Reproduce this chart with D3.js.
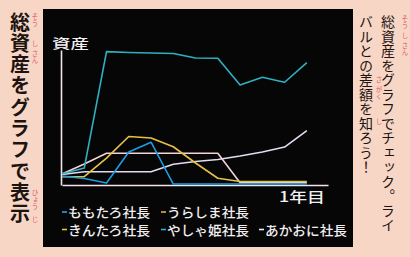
<!DOCTYPE html>
<html>
<head>
<meta charset="utf-8">
<script src="https://cdn.jsdelivr.net/npm/d3@7"></script>
<style>
  body { margin: 0; background: #f8d6c6; }
  svg { display: block; }
</style>
</head>
<body>
<svg id="chart" width="410" height="257"></svg>
<script>
// Year-1 total assets per president, one value per month (12 turns)
const months = d3.range(12);
const presidents = ['ももたろ社長', 'うらしま社長', 'きんたろ社長', 'やしゃ姫社長', 'あかおに社長'];
const momotaro = [6, 4.1, 0.8, 24.1, 31.4, 0, 0, 0, 0, 0, 0, 0];
const urashima = [7.5, 15, 23.1, 23.1, 23.1, 23.1, 23.1, 23.1, 1, 1, 1, 1];
const kintaro = [5.5, 5.5, 19.5, 35.7, 34.6, 28, 15.8, 4.3, 1.9, 1.9, 1.9, 1.9];
const yashahime = [7.5, 12, 99.5, 98.9, 98.5, 98.1, 94.7, 94.5, 74.4, 80.2, 76.5, 91.2];
const akaoni = [7.1, 9.2, 9.2, 9.2, 9.2, 14.8, 16.9, 18.4, 21, 24, 27.8, 40.2];
const seriesValues = [momotaro, urashima, kintaro, yashahime, akaoni];

const lineColors = ['#1c9de2', '#f4d2d8', '#e7c145', '#2fb1c2', '#e6daf2'];
const legendColors = ['#2aa0e0', '#e8a845', '#e8c232', '#38b2c0', '#f0eef0'];

// Page captions (vertical)
const leftCaption = '総資産をグラフで表示';
const rightCaption1 = '総資産をグラフでチェック。ライ';
const rightCaption2 = 'バルとの差額を知ろう！';

const svg = d3.select('#chart');
const JP = '"Noto Sans CJK JP", "Noto Sans", sans-serif';

// ---- vertical captions on the pink page ----
function vText(x, y, str, size, opts = {}) {
    return svg.append('text')
        .attr('x', x)
        .attr('y', y)
        .style('writing-mode', 'vertical-rl')
        .style('font-family', JP)
        .style('font-size', size + 'px')
        .style('font-weight', opts.weight || 400)
        .style('letter-spacing', (opts.spacing || 0) + 'px')
        .attr('fill', opts.fill || '#1b1410')
        .text(str);
}

vText(20, 12, leftCaption, 20, { weight: 700, spacing: 1.3 });
vText(388, 15, rightCaption1, 14, { spacing: 0.5 });
vText(366, 15, rightCaption2, 14, { spacing: 0.5 });

// furigana
const RUBY = '#e0586a';
[
    [35, 13, 'そう'], [35, 40, 'し'], [35, 50, 'さん'], [35, 189, 'ひょう'], [35, 216, 'じ'],
    [405, 15, 'そう'], [405, 32, 'し'], [405, 42, 'さん'],
    [379, 76, 'さ'], [379, 86, 'がく'], [379, 118, 'し']
].forEach(([x, y, s]) => vText(x, y, s, 6.5, { fill: RUBY, spacing: 0.5 }));

// ---- black game screen ----
svg.append('rect')
    .attr('x', 43).attr('y', 9)
    .attr('width', 310).attr('height', 238)
    .attr('fill', '#060606');

const x = d3.scaleLinear().domain([0, 11.95]).range([62, 328]);
const y = d3.scaleLinear().domain([-0.75, 100.75]).range([185, 50]);

const AXIS = '#f3e4ea';

svg.append('g')
    .attr('transform', `translate(0,${y(-0.75)})`)
    .call(d3.axisBottom(x).ticks(0).tickSizeOuter(0))
    .call(g => g.select('.domain').attr('stroke', AXIS).attr('stroke-width', 1.6));

svg.append('g')
    .attr('transform', `translate(${x(0) - 1},0)`)
    .call(d3.axisLeft(y).ticks(0).tickSizeOuter(0))
    .call(g => g.select('.domain').attr('stroke', AXIS).attr('stroke-width', 1.6));

// asset lines (draw big ones last)
const line = d3.line()
    .x((d, i) => x(months[i]))
    .y(d => y(d));

const drawOrder = [4, 1, 2, 0, 3];
svg.append('g')
    .selectAll('path')
    .data(drawOrder)
    .join('path')
    .attr('d', k => line(seriesValues[k]))
    .attr('fill', 'none')
    .attr('stroke', k => lineColors[k])
    .attr('stroke-width', 1.6)
    .attr('stroke-linejoin', 'round');

// axis labels (the game font is wide, so stretch them)
const labelStyle = (sel, size) => sel
    .style('font-family', JP)
    .style('font-size', size + 'px')
    .style('font-weight', 500)
    .attr('fill', '#f2eef2');

svg.append('text').attr('x', 52).attr('y', 48)
    .attr('textLength', 37).attr('lengthAdjust', 'spacingAndGlyphs')
    .text('資産').call(labelStyle, 13);
svg.append('text').attr('x', 279).attr('y', 202)
    .attr('textLength', 46).attr('lengthAdjust', 'spacingAndGlyphs')
    .text('1年目').call(labelStyle, 14);

// legend: two rows, three columns
const legendCols = [62, 161, 259];
const legendPos = [[0, 0], [1, 0], [0, 1], [1, 1], [2, 1]];

const legend = svg.append('g')
    .selectAll('g')
    .data(presidents)
    .join('g')
    .attr('transform', (d, i) => `translate(${legendCols[legendPos[i][0]]},${217 + legendPos[i][1] * 17.5})`);

legend.append('line')
    .attr('x1', 0).attr('x2', 5)
    .attr('y1', -5).attr('y2', -5)
    .attr('stroke', (d, i) => legendColors[i])
    .attr('stroke-width', 1.6);

legend.append('text')
    .attr('x', 6)
    .attr('textLength', 82).attr('lengthAdjust', 'spacingAndGlyphs')
    .text(d => d)
    .call(labelStyle, 13);
</script>
</body>
</html>
